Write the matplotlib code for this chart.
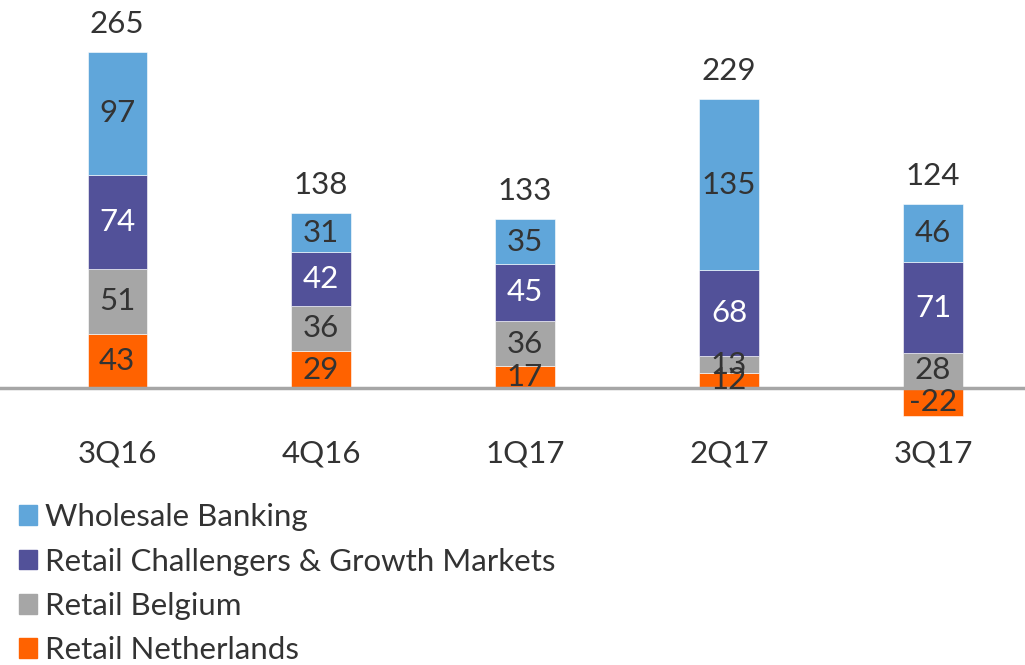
import matplotlib
matplotlib.use("Agg")
import matplotlib.pyplot as plt
import numpy as np
from matplotlib.patches import Patch

plt.rcParams['font.family'] = ['Lato', 'DejaVu Sans']

quarters = ["3Q16", "4Q16", "1Q17", "2Q17", "3Q17"]
retail_nl = [43, 29, 17, 12, -22]
retail_be = [51, 36, 36, 13, 28]
retail_cgm = [74, 42, 45, 68, 71]
wholesale = [97, 31, 35, 135, 46]
totals = [265, 138, 133, 229, 124]

series = [
    ("Retail Netherlands", retail_nl, "#FF6200", "#333333"),
    ("Retail Belgium", retail_be, "#A6A6A6", "#333333"),
    ("Retail Challengers & Growth Markets", retail_cgm, "#525199", "white"),
    ("Wholesale Banking", wholesale, "#60A6DA", "#333333"),
]

fig = plt.figure(figsize=(10.25, 6.65), dpi=100)
ax = fig.add_axes([0, (665 - 430) / 665, 1, 430 / 665])

x = np.arange(len(quarters))
pos_base = np.zeros(len(quarters))
neg_base = np.zeros(len(quarters))
fs = 22.5
for name, vals, col, tcol in series:
    vals = np.array(vals, dtype=float)
    bottoms = np.where(vals >= 0, pos_base, neg_base)
    ax.bar(x, vals, 0.29, bottom=bottoms, color=col, edgecolor="white", linewidth=0.4, zorder=2)
    for xi, b, v in zip(x, bottoms, vals):
        ax.text(xi, b + v / 2, f"{int(v)}", ha="center", va="center", color=tcol, fontsize=fs, zorder=4)
    pos_base = np.where(vals >= 0, pos_base + vals, pos_base)
    neg_base = np.where(vals < 0, neg_base + vals, neg_base)

for xi, top, t in zip(x, pos_base, totals):
    ax.annotate(f"{t}", (xi, top), xytext=(0, 10), textcoords="offset points",
                ha="center", va="bottom", fontsize=fs, color="#333333")

ax.axhline(0, color="#A6A6A6", linewidth=2.5, zorder=3)
ax.set_xlim(-0.574, 4.451)
ax.set_ylim(-33.1, 306)
for s in ax.spines.values():
    s.set_visible(False)
ax.set_yticks([])
ax.set_xticks(x)
ax.set_xticklabels(quarters, fontsize=fs, color="#333333")
ax.tick_params(axis="x", length=0, pad=7)

handles = [Patch(color=c) for _, _, c, _ in series[::-1]]
labels = [n for n, _, _, _ in series[::-1]]
fig.legend(handles, labels, loc="upper left", bbox_to_anchor=(0.006, 0.262), frameon=False,
           fontsize=fs, handlelength=0.6, handleheight=0.6, handletextpad=0.25,
           labelspacing=0.52, borderaxespad=0, labelcolor="#333333")

fig.savefig("out.png", dpi=100)
